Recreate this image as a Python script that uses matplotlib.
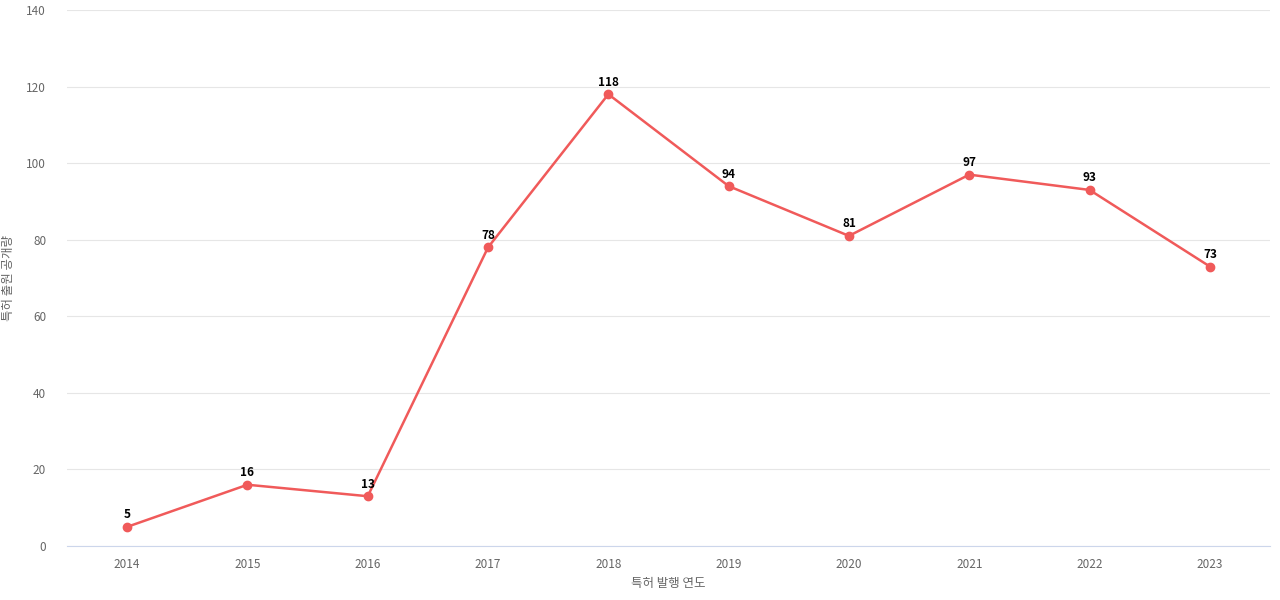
import matplotlib
matplotlib.use("Agg")
import matplotlib.pyplot as plt

years = ["2014","2015","2016","2017","2018","2019","2020","2021","2022","2023"]
values = [5,16,13,78,118,94,81,97,93,73]

plt.rcParams['font.family'] = ['Noto Sans CJK KR', 'DejaVu Sans']
fig = plt.figure(figsize=(12.8, 6), dpi=100)
ax = fig.add_axes([67/1280, 1-546/600, 1203/1280, 536/600])
x = list(range(len(years)))
ax.plot(x, values, color='#f05a5a', lw=1.8, marker='o', ms=6, zorder=3)
for xi, v in zip(x, values):
    ax.annotate(str(v), (xi, v), xytext=(0, 4), textcoords='offset points',
                ha='center', va='bottom', fontsize=8.5, fontweight='bold', color='black')
ax.set_xlim(-0.5, 9.5)
ax.set_ylim(0, 140)
ax.set_yticks(range(0, 141, 20))
ax.set_xticks(x)
ax.set_xticklabels(years)
ax.grid(axis='y', color='#e6e6e6', lw=0.8)
ax.set_axisbelow(True)
for s in ['top', 'right', 'left']:
    ax.spines[s].set_visible(False)
ax.spines['bottom'].set_color('#ccd6eb')
ax.tick_params(axis='both', length=0, colors='#666666', labelsize=8.5)
ax.tick_params(axis='y', pad=15)
ax.tick_params(axis='x', pad=9)
ax.set_xlabel('특허 발행 연도', color='#666666', fontsize=9, labelpad=4)
ax.set_ylabel('특허 출원 공개량', color='#666666', fontsize=9, labelpad=8)
fig.savefig('out.png', dpi=100)
